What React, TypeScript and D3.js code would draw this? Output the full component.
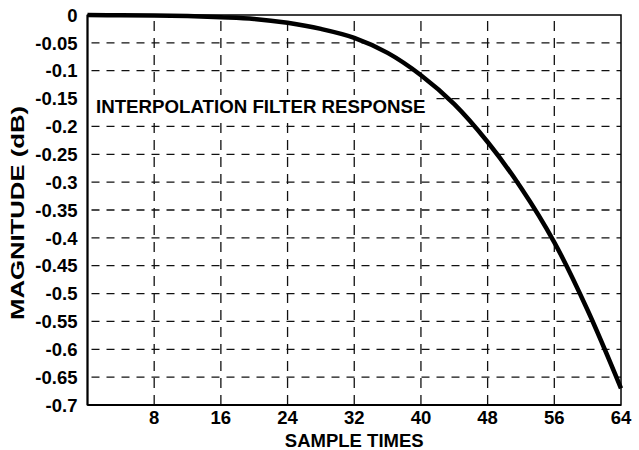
import { useEffect, useRef } from "react";
import * as d3 from "d3";

const sampleTimes = [0, 4, 8, 12, 16, 20, 24, 28, 32, 36, 40, 44, 48, 52, 56, 60, 64];
const magnitudeDb = [0, -0.0005, -0.001, -0.002, -0.004, -0.007, -0.014, -0.025, -0.041, -0.068, -0.108, -0.16, -0.228, -0.31, -0.408, -0.53, -0.67];

const xTicks = [8, 16, 24, 32, 40, 48, 56, 64];
const yTicks = [0, -0.05, -0.1, -0.15, -0.2, -0.25, -0.3, -0.35, -0.4, -0.45, -0.5, -0.55, -0.6, -0.65, -0.7];
const yTickLabels = ["0", "-0.05", "-0.1", "-0.15", "-0.2", "-0.25", "-0.3", "-0.35", "-0.4", "-0.45", "-0.5", "-0.55", "-0.6", "-0.65", "-0.7"];

const WIDTH = 639;
const HEIGHT = 450;
const MARGIN = { top: 15, right: 18, bottom: 45, left: 87.5 };
const FONT = "'Liberation Sans', Arial, Helvetica, sans-serif";

export default function App() {
  const svgRef = useRef<SVGSVGElement>(null);

  useEffect(() => {
    const svg = d3.select(svgRef.current);
    svg.selectAll("*").remove();

    const plotW = WIDTH - MARGIN.left - MARGIN.right;
    const plotH = HEIGHT - MARGIN.top - MARGIN.bottom;

    svg.append("rect").attr("width", WIDTH).attr("height", HEIGHT).attr("fill", "#ffffff");

    const g = svg.append("g").attr("transform", `translate(${MARGIN.left},${MARGIN.top})`);

    const x = d3.scaleLinear().domain([0, 64]).range([0, plotW]);
    const y = d3.scaleLinear().domain([0, -0.7]).range([0, plotH]);

    // dashed grid
    g.selectAll("line.hgrid")
      .data(yTicks.filter((t) => t !== 0 && t !== -0.7))
      .join("line")
      .attr("class", "hgrid")
      .attr("x1", 0)
      .attr("x2", plotW)
      .attr("y1", (d) => y(d))
      .attr("y2", (d) => y(d))
      .attr("stroke", "#111")
      .attr("stroke-width", 1.3)
      .attr("stroke-dasharray", "8,7")
      .attr("stroke-dashoffset", -4);

    g.selectAll("line.vgrid")
      .data(xTicks.filter((t) => t !== 64))
      .join("line")
      .attr("class", "vgrid")
      .attr("x1", (d) => x(d))
      .attr("x2", (d) => x(d))
      .attr("y1", plotH)
      .attr("y2", 0)
      .attr("stroke", "#111")
      .attr("stroke-width", 1.3)
      .attr("stroke-dasharray", "10,7");

    // title box
    g.append("rect")
      .attr("x", 1)
      .attr("y", 80)
      .attr("width", 342)
      .attr("height", 24)
      .attr("fill", "#ffffff");

    g.append("text")
      .attr("x", 8.5)
      .attr("y", 98)
      .attr("font-family", FONT)
      .attr("font-weight", "bold")
      .attr("font-size", "18.7px")
      .attr("fill", "#000")
      .text("INTERPOLATION FILTER RESPONSE");

    // frame
    g.append("rect")
      .attr("x", 0)
      .attr("y", 0)
      .attr("width", plotW)
      .attr("height", plotH)
      .attr("fill", "none")
      .attr("stroke", "#000")
      .attr("stroke-width", 1.5);
    g.append("line").attr("x1", 0).attr("x2", 0).attr("y1", 0).attr("y2", plotH).attr("stroke", "#000").attr("stroke-width", 2);
    g.append("line").attr("x1", 0).attr("x2", plotW).attr("y1", plotH).attr("y2", plotH).attr("stroke", "#000").attr("stroke-width", 2);

    // curve
    const line = d3
      .line<number>()
      .x((_, i) => x(sampleTimes[i]))
      .y((d) => y(d))
      .curve(d3.curveCatmullRom);

    g.append("path")
      .datum(magnitudeDb)
      .attr("d", line)
      .attr("fill", "none")
      .attr("stroke", "#000")
      .attr("stroke-width", 4.5);

    // y tick labels
    g.selectAll("text.ytick")
      .data(yTicks)
      .join("text")
      .attr("class", "ytick")
      .attr("x", -10)
      .attr("y", (d) => y(d))
      .attr("dy", "0.36em")
      .attr("text-anchor", "end")
      .attr("font-family", FONT)
      .attr("font-weight", "bold")
      .attr("font-size", "18.5px")
      .attr("fill", "#000")
      .text((_, i) => yTickLabels[i]);

    // x tick labels
    g.selectAll("text.xtick")
      .data(xTicks)
      .join("text")
      .attr("class", "xtick")
      .attr("x", (d) => x(d))
      .attr("y", plotH + 19)
      .attr("text-anchor", "middle")
      .attr("font-family", FONT)
      .attr("font-weight", "bold")
      .attr("font-size", "18.5px")
      .attr("fill", "#000")
      .text((d) => String(d));

    // axis titles
    g.append("text")
      .attr("x", plotW / 2)
      .attr("y", plotH + 42)
      .attr("text-anchor", "middle")
      .attr("font-family", FONT)
      .attr("font-weight", "bold")
      .attr("font-size", "18.5px")
      .attr("fill", "#000")
      .text("SAMPLE TIMES");

    g.append("text")
      .attr("transform", `translate(${-64},${plotH / 2 + 3}) rotate(-90)`)
      .attr("text-anchor", "middle")
      .attr("font-family", FONT)
      .attr("font-weight", "bold")
      .attr("font-size", "18.5px")
      .attr("textLength", 214)
      .attr("lengthAdjust", "spacingAndGlyphs")
      .attr("fill", "#000")
      .text("MAGNITUDE (dB)");
  }, []);

  return (
    <div style={{ position: "absolute", left: 0, top: 0 }}>
      <svg ref={svgRef} width={WIDTH} height={HEIGHT} style={{ display: "block" }} />
    </div>
  );
}
